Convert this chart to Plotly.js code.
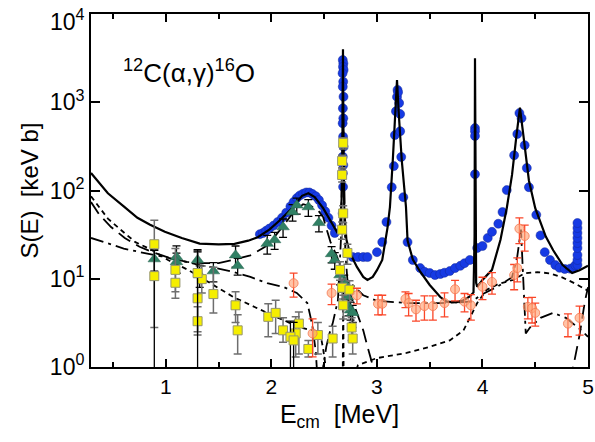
<!DOCTYPE html>
<html><head><meta charset="utf-8">
<script src="https://cdn.plot.ly/plotly-3.0.1.min.js"></script>
<style>html,body{margin:0;padding:0;background:#fff}#c{width:595px;height:442px}</style>
</head><body><div id="c"></div>
<script>
// ---- tick labels ----
const xTickVals = [1, 2, 3, 4, 5];
const xTickText = ['1', '2', '3', '4', '5'];
const xMinorVals = [0.5, 1.5, 2.5, 3.5, 4.5];
const yTickVals = [1, 10, 100, 1000, 10000];
const yTickText = ['10<sup>0</sup>', '10<sup>1</sup>', '10<sup>2</sup>', '10<sup>3</sup>', '10<sup>4</sup>'];

// ---- curves ----
const totalX = [0.29,0.45,0.6,0.73,0.85,0.99,1.15,1.32,1.5,1.65,1.78,1.87,1.98,2.08,2.19,2.29,2.35,2.41,2.49,2.57,2.62,2.65,2.665,2.672,2.676,2.678,2.680,2.684,2.69,2.71,2.74,2.81,2.87,2.91,2.96,3.0,3.05,3.10,3.123,3.15,3.175,3.19,3.205,3.235,3.275,3.29,3.34,3.41,3.50,3.60,3.66,3.75,3.82,3.88,3.915,3.925,3.929,3.933,3.94,3.95,4.0,4.09,4.17,4.23,4.28,4.32,4.355,4.39,4.44,4.50,4.54,4.60,4.67,4.76,4.85,4.92,5.0];
const totalS = [158,93,66,49,41,34,29,25,24.5,24.8,27,29.5,36,46,62,87,93,84,63,43,34,38,80,250,1200,4000,1200,250,60,28,20,13.6,10.5,9.7,10.5,12.5,16.3,38,65,220,800,1780,800,220,65,27,16.5,12,8.5,6.2,5.5,5.4,5.7,6.3,7,30,3160,30,9,8.1,9.7,12.6,27.5,63,150,400,870,400,130,63,46,30,21,14.3,11.6,12.5,14];

const e1X = [0.29,0.37,0.48,0.61,0.75,0.9,1.05,1.2,1.35,1.5,1.65,1.8,1.94,2.0,2.1,2.2,2.3,2.38,2.44,2.49,2.53,2.56,2.62,2.68,2.75,2.81,2.87,2.91,2.96,3.0,null,4.84,4.86,4.92,4.97,5.0];
const e1S = [74,53,38.5,29,23,19.5,17,15.5,15,15,16.5,18.4,23,27,38,55,70,66,60,50,34,26,18,11,6.5,4.1,2.6,1.7,1.0,0.7,null,0.7,1.0,2.3,5.5,8];

const dashX = [0.29,0.45,0.57,0.71,0.85,1.02,1.21,1.37,1.64,1.96,2.11,2.27,2.46,2.49,2.52,2.55,null,2.675,2.68,2.685,null,2.75,2.82,2.95,3.0,3.28,3.5,3.69,3.82,3.88,3.95,4.04,4.15,4.29,4.40,4.52,4.64,4.76,4.88,5.0];
const dashS = [86,48,36,26,21.7,16.3,12.6,9.7,6.2,4.1,3.4,2.8,2.5,1.6,0.9,0.5,null,0.5,9,0.5,null,0.6,1.05,1.2,1.26,1.44,1.69,2.0,2.6,3.6,5.3,7.5,8.7,9.7,11.5,11.9,11.5,10.3,8.8,7.3];

const e2X = [0.29,0.45,0.6,0.8,1.0,1.32,1.48,1.64,1.80,1.96,2.11,2.24,2.34,2.37,2.39,2.42,2.445,2.47,2.49,2.52,2.55,2.58,2.63,2.66,2.675,2.678,2.681,2.70,2.72,2.81,2.87,3.0,3.3,3.6,3.9,3.98,4.14,4.28,4.33,4.365,4.395,4.41,4.45,4.55,4.67,4.79,4.92,5.0];
const e2S = [29,25,22,19.5,17.5,14.3,13.2,11.9,10.5,8.9,8.1,6.9,5.3,3.7,2.8,1.5,0.5,0.5,1.0,1.7,2.4,3.1,5.7,30,500,3800,500,20,9.7,7.6,6.5,5.6,5.3,5.3,5.5,6.5,8.1,10.4,18,36,6,2.4,2.8,3.6,4.1,3.6,2.7,2.2];

// ---- data: blue circles ----
const blueX = [1.89,1.92,1.95,1.98,2.02,2.06,2.10,2.14,2.18,2.21,2.24,2.27,2.30,2.33,2.36,2.39,2.42,2.45,2.48,2.51,2.54,2.57,2.60,
  2.676,2.682,2.678,2.684,2.674,2.680,2.676,2.683,2.677,2.681,2.675,2.679,2.684,2.676,2.681,2.677,2.679,2.675,
  2.77,2.82,2.87,2.91,3.00,3.05,3.09,
  3.14,3.16,3.17,3.18,3.19,3.195,3.20,3.21,3.22,3.22,3.23,3.25,
  3.29,3.34,3.41,3.45,3.50,3.55,3.60,3.64,3.69,3.74,3.79,3.83,3.88,
  3.929,3.929,3.929,3.929,
  3.95,4.00,4.05,4.09,4.15,4.19,4.23,
  4.30,4.33,4.35,4.37,4.40,4.42,4.44,
  4.51,4.55,4.59,4.64,4.69,4.73,4.78,4.83,4.86,4.88,
  4.90,4.90,4.90,4.90,4.90,4.90,4.90,4.90,4.90];
const blueS = [32,33,35,37,40,44,49,56,66,74,82,88,92,95,95,91,86,78,68,58,49,40,33,
  3010,2760,2530,2320,2130,1710,1500,1155,854,658,578,407,313,242,194,157,110,55,
  17.6,17.6,17.6,17.6,20,26,44,
  109,189,425,790,1150,1380,1300,980,735,470,240,84,
  26,16.3,13.2,12,11.6,11,11.3,11.7,12.2,13.2,14,15,16.3,
  510,470,415,153,
  22.3,23.5,29,34,42,57,101,
  251,437,754,660,326,180,109,
  53,31,20,16.3,14.3,13.3,12.9,13,13.3,14.2,
  14.3,16.3,18.6,22.3,25.4,29,33,37.6,42.8];

// ---- data: green triangles ----
const greenX = [0.89,1.10,1.10,1.30,1.32,1.45,1.66,1.68,1.96,2.03,2.11,2.20,2.24,2.35,2.45,2.57,2.60,2.65,2.69,2.70,2.72,2.73,2.75,2.77];
const greenS = [16.7,17.6,15.5,16.3,11,12.2,18.5,14,25,27.5,38.5,57,68,65,43,19.1,16.3,11,9,7.5,6.2,4.8,4.4,4.1];
const greenErr = [4.5,6,4,5,3,3,5,3,6,6,9,12,14,14,9,4,3.5,2.5,2,1.6,1.4,1,1,0.9];

// ---- data: yellow squares (gray error bars) ----
const yellowX = [0.89,1.09,1.09,1.30,1.30,1.34,1.45,1.66,1.68,1.97,2.04,2.11,2.23,2.26,2.35,2.44,2.58,2.65,2.67,2.67,2.68,2.68,2.72,2.74,2.76,2.77,2.67,2.67,2.68];
const yellowS = [24.6,12.6,9.0,6.0,3.3,9.9,6.7,5.0,2.6,3.7,4.1,2.6,2.4,3.1,1.6,2.3,2.1,12.6,7.9,36,5.0,55,19.6,7.5,2.8,2.1,150,216,346];
const yellowErrP = [21.4,9.4,5,14,1.5,4,6.8,2.1,1.3,1.5,1.6,1.0,1.3,1.1,0.4,0.9,0.8,3,2,8,1.5,12,5,2,0.8,0.7,25,35,50];
const yellowErrM = [21.8,5.5,3,3.5,1,3,2.6,1.8,1.2,1.5,1.7,0.7,1.1,1.7,0.3,0.9,0.8,3,2,8,1.5,12,5,2,0.8,0.7,25,35,50];
// yellow squares with black error bars
const yellowBX = [0.89,1.30,2.18,2.21];
const yellowBS = [10.7,11.6,2.2,2.0];
const yellowBErrP = [10.3,9,1.1,1.2];
const yellowBErrM = [10.7,11.6,2.2,2.0];

// ---- data: orange open circles ----
const orangeX = [2.21,2.39,2.57,2.81,3.01,3.05,3.27,3.30,3.37,3.45,3.53,3.64,3.74,3.83,3.89,4.00,4.09,4.30,4.33,4.35,4.40,4.43,4.47,4.50,4.81,4.92];
const orangeS = [8.9,2.4,6.9,6.5,5.2,5.2,5.9,5.3,4.5,4.9,4.9,5.3,7.6,5.5,5.0,8.1,9.2,11,13.2,37,30.5,4.8,4.65,4.1,3.1,3.6];
const orangeErr = [2.7,1.1,1.8,1.3,1.3,1.3,1.2,1.5,1.2,1.5,1.5,1.6,2,1.3,1.6,2.3,2.5,3.5,4,12,10,1.3,1.5,1.2,0.9,1.3];

const FONT = 'Liberation Sans, Arial, Helvetica, sans-serif';

const traces = [
  {x: blueX, y: blueS, type: 'scatter', mode: 'markers',
   marker: {symbol: 'circle', size: 9, color: 'rgb(22,58,228)', line: {color: 'rgb(20,40,150)', width: 0.5}}},
  {x: totalX, y: totalS, type: 'scatter', mode: 'lines', line: {color: '#000', width: 2.2}},
  {x: e1X, y: e1S, type: 'scatter', mode: 'lines', connectgaps: false, line: {color: '#000', width: 1.8, dash: '14px,7px'}},
  {x: dashX, y: dashS, type: 'scatter', mode: 'lines', connectgaps: false, line: {color: '#000', width: 1.8, dash: '5px,4px'}},
  {x: e2X, y: e2S, type: 'scatter', mode: 'lines', line: {color: '#000', width: 1.8, dash: '13px,5px,3px,5px'}},
  {x: greenX, y: greenS, type: 'scatter', mode: 'markers',
   error_y: {type: 'data', array: greenErr, color: '#000', thickness: 1.3, width: 4},
   marker: {symbol: 'triangle-up', size: 11, color: 'rgb(48,128,100)', line: {color: 'rgb(40,100,80)', width: 0.5}}},
  {x: yellowX, y: yellowS, type: 'scatter', mode: 'markers',
   error_y: {type: 'data', symmetric: false, array: yellowErrP, arrayminus: yellowErrM, color: 'rgb(110,110,110)', thickness: 1.5, width: 4},
   marker: {symbol: 'square', size: 9, color: 'rgb(245,238,0)', line: {color: 'rgb(150,150,110)', width: 1}}},
  {x: yellowBX, y: yellowBS, type: 'scatter', mode: 'markers',
   error_y: {type: 'data', symmetric: false, array: yellowBErrP, arrayminus: yellowBErrM, color: '#000', thickness: 1.3, width: 4},
   marker: {symbol: 'square', size: 9, color: 'rgb(245,238,0)', line: {color: 'rgb(150,150,110)', width: 1}}},
  {x: orangeX, y: orangeS, type: 'scatter', mode: 'markers',
   error_y: {type: 'data', array: orangeErr, color: 'rgb(250,70,40)', thickness: 1.3, width: 4},
   marker: {symbol: 'circle', size: 9, color: 'rgba(255,165,120,0.65)', line: {color: 'rgba(245,120,80,0.8)', width: 1}}}
];

const layout = {
  width: 595, height: 442,
  margin: {l: 91, r: 7, t: 14, b: 75},
  paper_bgcolor: '#fff', plot_bgcolor: '#fff',
  showlegend: false,
  font: {family: FONT, color: '#000'},
  xaxis: {
    range: [0.29, 5.0], tickmode: 'array', tickvals: xTickVals, ticktext: xTickText,
    ticks: 'inside', ticklen: 8, tickwidth: 2, tickcolor: '#000',
    minor: {tickmode: 'array', tickvals: xMinorVals, ticks: 'inside', ticklen: 5, tickwidth: 2, tickcolor: '#000'},
    showline: true, linewidth: 2, linecolor: '#000', mirror: 'ticks',
    showgrid: false, zeroline: false, ticklabeloverflow: 'allow',
    tickfont: {size: 21, family: FONT},
    title: {text: 'E<sub>cm</sub>  [MeV]', font: {size: 25, family: FONT}, standoff: 8}
  },
  yaxis: {
    type: 'log', range: [-0.0005, 4.0005], tickmode: 'array',
    tickvals: yTickVals.slice(0, 4), ticktext: yTickText.slice(0, 4),
    ticks: 'inside', ticklen: 9, tickwidth: 2, tickcolor: '#000',
    showline: true, linewidth: 2, linecolor: '#000', mirror: 'ticks',
    showgrid: false, zeroline: false, ticklabeloverflow: 'allow',
    tickfont: {size: 23, family: FONT},
    title: {text: 'S(E)  [keV b]', font: {size: 24, family: FONT}, standoff: 4}
  },
  annotations: [{
    xref: 'paper', yref: 'paper', x: 0.197, y: 0.836, xanchor: 'center', yanchor: 'middle',
    showarrow: false, text: '<sup>12</sup>C(α,γ)<sup>16</sup>O', font: {size: 26, family: FONT}
  }, {
    // top tick label, set slightly lower than its tick so it stays inside the page (as in the reference)
    xref: 'paper', yref: 'paper', x: -0.008, y: 0.982, xanchor: 'right', yanchor: 'middle',
    showarrow: false, text: yTickText[4], font: {size: 23, family: FONT}
  }]
};

Plotly.newPlot('c', traces, layout, {staticPlot: true, displayModeBar: false});
</script></body></html>
